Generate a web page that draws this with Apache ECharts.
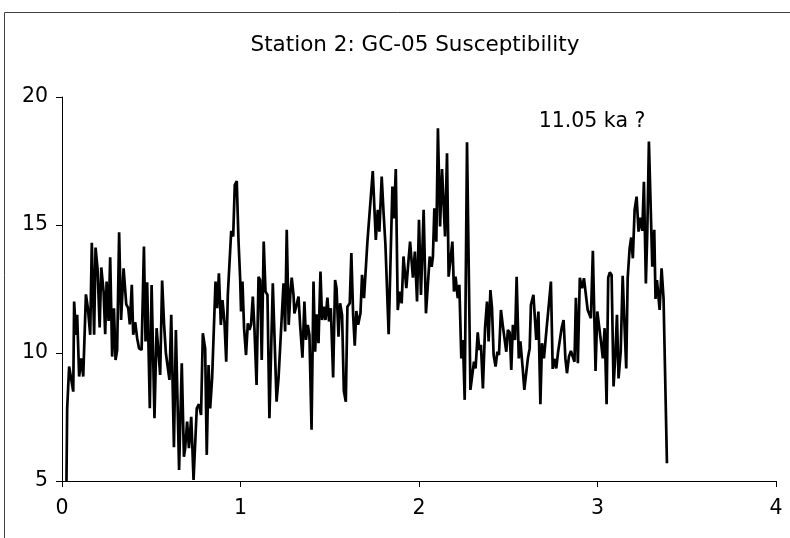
<!DOCTYPE html>
<html>
<head>
<meta charset="utf-8">
<script src="https://cdn.jsdelivr.net/npm/echarts@6/dist/echarts.min.js"></script>
<style>html,body{margin:0;padding:0;background:#fff;}#c{width:790px;height:538px;}</style>
</head>
<body>
<div id="c"></div>
<script>
// Depth (x) values
var depth = [
0.025,0.029,0.040,0.063,0.068,0.078,0.085,0.096,0.108,0.119,0.134,0.145,0.158,0.167,0.180,0.188,0.199,0.211,0.220,0.233,
0.242,0.250,0.261,0.270,0.281,0.291,0.300,0.309,0.320,0.331,0.345,0.352,0.360,0.371,0.380,0.391,0.399,0.410,0.421,0.432,
0.446,0.459,0.468,0.477,0.492,0.502,0.513,0.518,0.530,0.550,0.561,0.572,0.582,0.591,0.602,0.612,0.627,0.638,0.656,
0.671,0.683,0.690,0.701,0.711,0.724,0.737,0.755,0.767,0.779,0.789,0.802,0.811,0.821,0.830,0.841,0.860,0.869,0.879,0.890,
0.899,0.910,0.920,0.929,0.940,0.948,0.959,0.968,0.979,0.989,0.998,1.003,1.011,1.020,1.031,1.041,1.050,1.059,1.069,1.078,
1.090,1.101,1.110,1.119,1.130,1.140,1.151,1.162,1.181,1.202,1.213,1.241,1.250,1.259,1.270,1.280,1.287,1.297,1.302,1.314,
1.325,1.334,1.347,1.358,1.367,1.377,1.386,1.398,1.409,1.418,1.427,1.437,1.448,1.457,1.466,1.476,1.487,1.496,1.506,1.519,
1.530,1.538,1.549,1.558,1.569,1.579,1.590,1.599,1.612,1.621,1.631,1.640,1.649,1.659,1.672,1.681,1.692,1.711,1.741,1.758,
1.769,1.778,1.791,1.802,1.812,1.821,1.830,1.851,1.860,1.870,1.881,1.892,1.903,1.913,1.929,1.941,1.950,1.966,1.977,
1.989,2.000,2.011,2.026,2.039,2.060,2.071,2.078,2.086,2.097,2.106,2.118,2.129,2.146,2.157,2.166,2.176,2.187,2.196,2.205,
2.217,2.226,2.237,2.246,2.256,2.269,2.288,2.299,2.308,2.317,2.329,2.338,2.347,2.358,2.370,2.381,2.390,2.400,2.409,2.418,
2.429,2.439,2.448,2.459,2.469,2.478,2.489,2.498,2.508,2.517,2.526,2.538,2.547,2.559,2.568,2.581,2.590,2.601,2.610,2.620,
2.627,2.641,2.657,2.669,2.680,2.689,2.700,2.715,2.728,2.739,2.749,2.758,2.769,2.779,2.790,2.799,2.810,2.820,2.829,2.840,
2.851,2.862,2.871,2.879,2.890,2.901,2.913,2.924,2.935,2.945,2.954,2.963,2.974,2.989,2.999,3.010,3.019,3.030,3.040,3.051,
3.060,3.069,3.079,3.090,3.100,3.109,3.118,3.130,3.141,3.152,3.161,3.169,3.180,3.189,3.198,3.208,3.219,3.230,3.240,3.251,
3.260,3.271,3.279,3.288,3.307,3.318,3.325,3.333,3.348,3.359,3.370,3.389
];
// Susceptibility (y) values
var susceptibility = [
5.0,7.84,9.47,8.49,12.01,10.71,11.49,9.08,9.79,9.08,12.29,11.75,10.71,14.31,10.71,14.12,13.31,11.0,13.34,12.4,
10.73,12.79,11.25,13.74,9.86,11.75,9.73,10.12,14.72,11.29,13.31,13.34,11.9,11.75,11.12,12.66,10.71,11.2,10.58,10.18,
10.12,14.16,10.45,12.76,7.84,12.66,12.68,7.45,10.97,9.14,12.83,11.1,9.99,9.92,8.95,11.49,6.32,10.9,5.43,
9.6,5.95,6.28,7.32,6.28,7.51,5.04,7.84,8.0,7.58,10.77,10.18,6.02,9.53,7.84,9.01,12.79,11.75,13.11,11.1,
12.07,11.23,9.66,12.29,12.27,14.77,14.55,16.56,16.72,14.35,12.92,11.62,12.79,10.97,9.92,11.16,10.9,11.1,12.2,10.97,
8.75,12.98,12.85,9.73,14.35,12.4,12.27,7.45,12.72,8.1,9.01,12.72,10.84,14.81,11.1,12.4,12.94,12.27,11.55,11.88,
12.2,11.1,9.82,12.01,10.51,11.1,10.71,7.0,12.79,10.05,11.51,10.38,13.18,11.29,11.81,11.29,12.16,11.23,11.75,9.04,
12.85,12.53,10.64,11.94,11.49,8.52,8.1,11.81,11.94,13.9,11.49,10.29,11.64,11.1,11.55,13.05,12.14,14.35,17.11,14.42,
15.59,14.74,16.89,15.42,14.22,14.16,10.73,16.5,15.26,17.19,11.68,12.4,11.94,13.77,12.53,13.6,14.35,12.94,13.96,
12.01,15.2,12.27,15.59,11.55,13.77,13.37,13.77,15.65,14.35,18.78,14.94,17.19,14.55,17.8,12.98,12.92,14.35,12.4,12.98,
12.14,12.66,9.79,10.51,8.17,18.23,8.56,8.62,9.66,9.4,10.81,10.12,10.32,8.62,10.97,12.01,10.45,12.46,11.75,9.92,
9.47,10.05,9.92,11.68,11.1,11.12,10.05,10.9,10.81,9.34,11.1,10.51,12.98,9.79,10.45,9.4,8.56,8.49,9.79,10.18,
11.88,12.27,10.51,11.62,8.0,10.38,9.79,10.97,11.94,12.79,9.38,9.77,9.4,10.03,9.99,10.97,11.29,9.79,9.21,9.86,
10.08,10.05,9.66,12.16,9.6,12.94,12.53,12.92,12.89,11.68,11.75,11.36,13.99,9.3,11.62,11.68,10.47,9.79,10.97,8.0,
12.94,13.15,13.05,8.69,9.92,11.49,9.01,10.05,13.02,10.97,9.4,12.92,14.09,14.51,13.7,15.59,16.11,14.74,15.29,14.77,
16.69,12.72,14.74,18.26,13.37,14.81,12.11,12.85,11.68,13.31,12.14,5.69
];
var xTicks = [0, 1, 2, 3, 4];
var yTicks = [5, 10, 15, 20];
var titleText = 'Station 2: GC-05 Susceptibility';
var noteText = '11.05 ka ?';

var pts = depth.map(function (d, i) { return [d, susceptibility[i]]; });
var FONT = 'DejaVu Sans';
var chart = echarts.init(document.getElementById('c'), null, {renderer: 'canvas'});
chart.setOption({
  animation: false,
  backgroundColor: '#ffffff',
  title: {
    text: titleText,
    left: 410, top: 29, textAlign: 'center',
    textStyle: {fontFamily: FONT, fontSize: 21.5, fontWeight: 'normal', color: '#000'}
  },
  grid: {left: 62, right: 14, top: 97, bottom: 57, containLabel: false},
  xAxis: {
    type: 'value', min: xTicks[0], max: xTicks[xTicks.length - 1], interval: 1,
    axisLine: {show: true, onZero: false, lineStyle: {color: '#000', width: 1}},
    axisTick: {show: true, inside: false, length: 6, lineStyle: {color: '#000'}},
    axisLabel: {fontFamily: FONT, fontSize: 20.5, color: '#000', margin: 17},
    splitLine: {show: false}
  },
  yAxis: {
    type: 'value', min: yTicks[0], max: yTicks[yTicks.length - 1], interval: 5,
    axisLine: {show: true, onZero: false, lineStyle: {color: '#000', width: 1}},
    axisTick: {show: true, inside: false, length: 6, lineStyle: {color: '#000'}},
    axisLabel: {fontFamily: FONT, fontSize: 20.5, color: '#000', margin: 14},
    splitLine: {show: false}
  },
  graphic: [
    {type: 'rect', shape: {x: 4.5, y: 12.5, width: 800, height: 600}, style: {fill: 'none', stroke: '#404040', lineWidth: 1}, silent: true, z: -1},
    {type: 'text', x: 592, y: 122, style: {text: noteText, fontFamily: FONT, fontSize: 20.5, fill: '#000', textAlign: 'center', textVerticalAlign: 'middle'}}
  ],
  series: [{
    type: 'line', data: pts, showSymbol: false, symbol: 'none',
    lineStyle: {color: '#000', width: 2.7}, clip: true
  }]
});
</script>
</body>
</html>
